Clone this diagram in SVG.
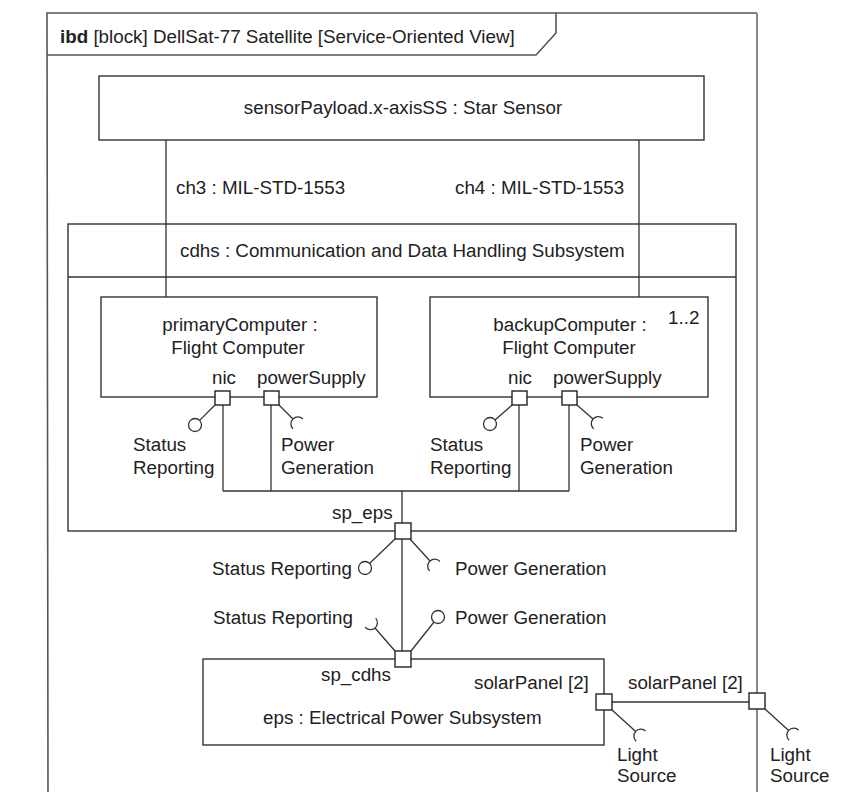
<svg xmlns="http://www.w3.org/2000/svg" width="856" height="800" viewBox="0 0 856 800">
<style>
text{font-family:"Liberation Sans",Arial,sans-serif;font-size:18.8px;fill:#222}
.b{fill:#fff;stroke:#333;stroke-width:1.4}
.w{fill:none;stroke:#333;stroke-width:1.3}
.p{fill:#fff;stroke:#222;stroke-width:1.4}
.f{fill:none;stroke:#555;stroke-width:1.6}
.m{text-anchor:middle}
</style>
<defs>
<path id="cup" d="M0 -7 A7 7 0 0 0 0 7" fill="none" stroke="#333" stroke-width="1.3"/>
</defs>
<rect width="856" height="800" fill="#fff"/>
<g id="frame">
<path class="f" d="M48 792 L47 13 L757 13"/>
<path d="M757 13 L757 792" fill="none" stroke="#888" stroke-width="2"/>
<path class="f" d="M47 55 L536 55 L556 33 L556 13"/>
<text x="60" y="43"><tspan font-weight="bold">ibd</tspan> [block] DellSat-77 Satellite [Service-Oriented View]</text>
</g>
<g id="starSensor">
<rect class="b" x="99" y="76" width="605" height="64"/>
<text class="m" x="403" y="114">sensorPayload.x-axisSS : Star Sensor</text>
</g>
<g id="cdhs">
<rect class="b" x="68" y="224" width="668" height="307"/>
<line class="w" x1="68" y1="277" x2="736" y2="277"/>
<text x="180" y="257">cdhs : Communication and Data Handling Subsystem</text>
</g>
<g id="connectors">
<line class="w" x1="166" y1="140" x2="166" y2="297"/>
<line class="w" x1="639" y1="140" x2="639" y2="297"/>
<path class="w" d="M223 405 V491 M271 405 V491 M519 405 V491 M569 405 V491 M223 491 H569 M402 491 V523 M402 539 V651 M612 702 H749"/>
<text x="176" y="194">ch3 : MIL-STD-1553</text>
<text x="455" y="194">ch4 : MIL-STD-1553</text>
</g>
<g id="primaryComputer">
<rect class="b" x="101" y="297" width="276" height="100"/>
<text class="m" x="240" y="331">primaryComputer :</text>
<text class="m" x="238" y="354">Flight Computer</text>
<text x="212" y="384">nic</text>
<text x="257" y="384">powerSupply</text>
</g>
<g id="backupComputer">
<rect class="b" x="430" y="297" width="278" height="100"/>
<text class="m" x="570" y="331">backupComputer :</text>
<text class="m" x="569" y="354">Flight Computer</text>
<text x="668" y="324">1..2</text>
<text x="508" y="384">nic</text>
<text x="553" y="384">powerSupply</text>
</g>
<g id="eps">
<rect class="b" x="203" y="659" width="401" height="86"/>
<text x="263" y="724">eps : Electrical Power Subsystem</text>
<text x="321" y="681">sp_cdhs</text>
<text x="474" y="689">solarPanel [2]</text>
</g>
<g id="interfaces">
<line class="w" x1="215" y1="405" x2="199.6" y2="420.4"/>
<circle class="w" cx="195" cy="425" r="6.5"/>
<line class="w" x1="279" y1="405" x2="293" y2="419"/>
<use href="#cup" transform="translate(297.9 423.9) rotate(45)"/>
<line class="w" x1="512" y1="405" x2="495" y2="420"/>
<circle class="w" cx="490" cy="424" r="6.5"/>
<line class="w" x1="577" y1="405" x2="593" y2="419"/>
<use href="#cup" transform="translate(598.3 423.6) rotate(41)"/>
<line class="w" x1="395" y1="539" x2="369.5" y2="563.5"/>
<circle class="w" cx="365" cy="568" r="6.5"/>
<line class="w" x1="410" y1="539" x2="430" y2="561"/>
<use href="#cup" transform="translate(434.7 566.2) rotate(47.7)"/>
<line class="w" x1="395" y1="651" x2="375" y2="628"/>
<use href="#cup" transform="translate(370.4 622.7) rotate(229)"/>
<line class="w" x1="411" y1="651" x2="434" y2="622"/>
<circle class="w" cx="438" cy="617" r="6.5"/>
<line class="w" x1="612" y1="710" x2="635.7" y2="731.4"/>
<use href="#cup" transform="translate(640.9 736.1) rotate(42)"/>
<line class="w" x1="765" y1="709" x2="788.7" y2="730.4"/>
<use href="#cup" transform="translate(793.9 735.1) rotate(42)"/>
<text x="133" y="451">Status</text>
<text x="133" y="474">Reporting</text>
<text x="281" y="451">Power</text>
<text x="281" y="474">Generation</text>
<text x="430" y="451">Status</text>
<text x="430" y="474">Reporting</text>
<text x="580" y="451">Power</text>
<text x="580" y="474">Generation</text>
<text x="212" y="575">Status Reporting</text>
<text x="455" y="575">Power Generation</text>
<text x="213" y="624">Status Reporting</text>
<text x="455" y="624">Power Generation</text>
<text x="617" y="761">Light</text>
<text x="617" y="782">Source</text>
<text x="770" y="761">Light</text>
<text x="770" y="782">Source</text>
</g>
<g id="ports">
<rect class="p" x="215" y="391" width="15" height="14"/>
<rect class="p" x="264" y="391" width="15" height="14"/>
<rect class="p" x="512" y="391" width="15" height="14"/>
<rect class="p" x="562" y="391" width="15" height="14"/>
<rect class="p" x="395" y="523" width="16" height="16"/>
<text x="332" y="519">sp_eps</text>
<rect class="p" x="395" y="651" width="16" height="16"/>
<rect class="p" x="596" y="694" width="16" height="16"/>
<rect class="p" x="749" y="693" width="16" height="16"/>
<text x="628" y="689">solarPanel [2]</text>
</g>
</svg>
